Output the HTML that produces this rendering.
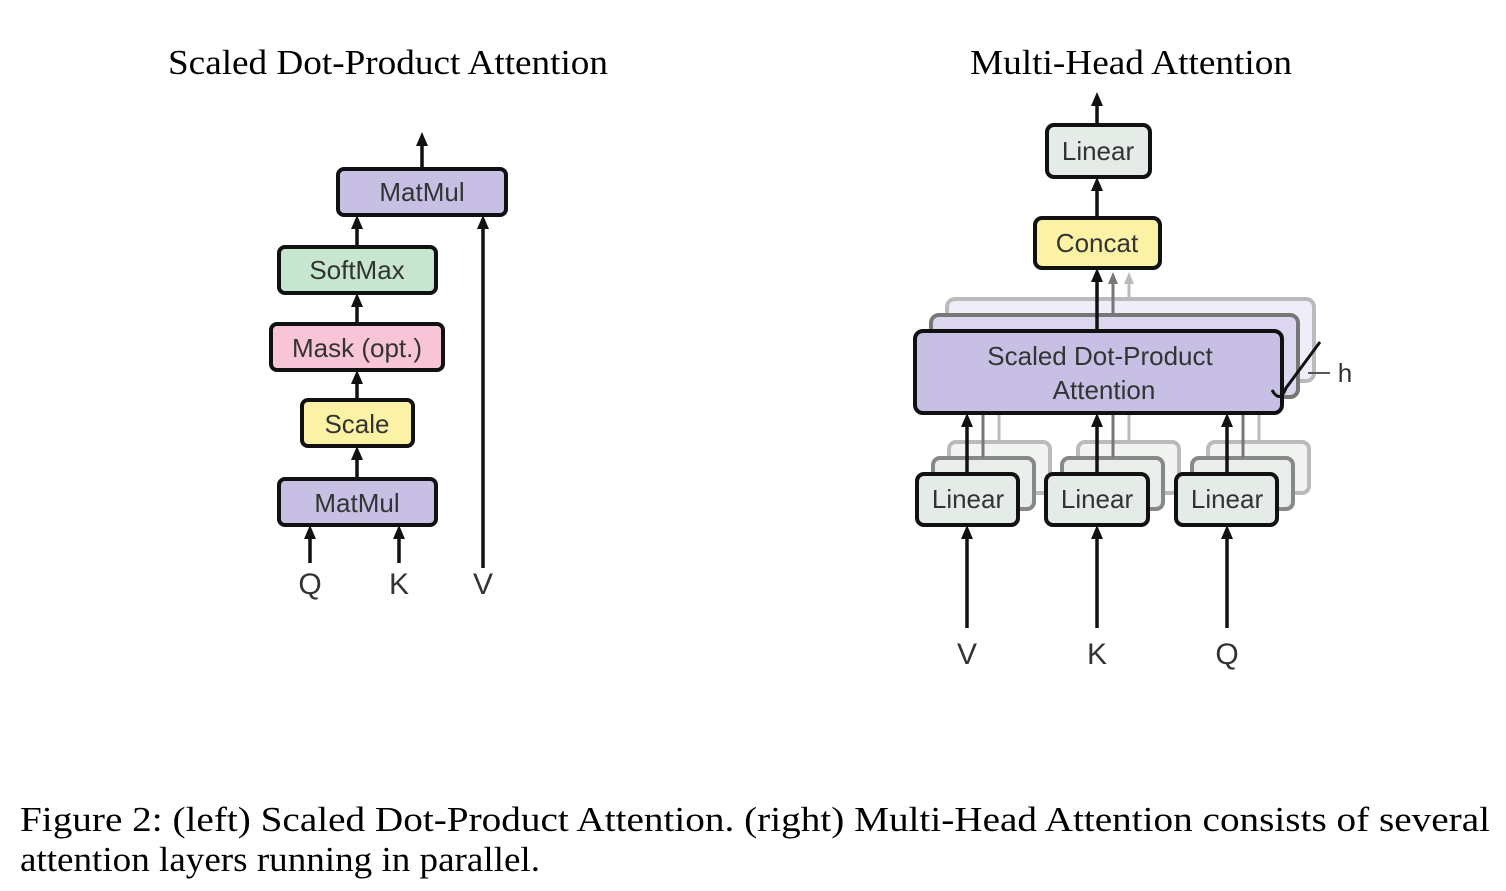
<!DOCTYPE html>
<html><head><style>
body{margin:0;background:#fff;width:1506px;height:886px;overflow:hidden}
</style></head><body>
<svg width="1506" height="886" viewBox="0 0 1506 886" xmlns="http://www.w3.org/2000/svg">
<style>
.t{font-family:"Liberation Serif",serif;font-size:35px;fill:#000}
.s{font-family:"Liberation Sans",sans-serif;font-size:26px;fill:#333;text-anchor:middle}
.b{stroke:#111;stroke-width:4}
.l{stroke:#111;stroke-width:3.5;fill:none}
</style>
<text class="t" x="168" y="74" textLength="440" lengthAdjust="spacingAndGlyphs">Scaled Dot-Product Attention</text>
<text class="t" x="970" y="74" textLength="322" lengthAdjust="spacingAndGlyphs">Multi-Head Attention</text>

<g class="l">
<line x1="422" y1="169" x2="422" y2="140"/>
<line x1="357" y1="247" x2="357" y2="222"/>
<line x1="357" y1="324" x2="357" y2="300"/>
<line x1="357" y1="400" x2="357" y2="377"/>
<line x1="357" y1="479" x2="357" y2="453"/>
<line x1="483" y1="568" x2="483" y2="222"/>
<line x1="310" y1="563" x2="310" y2="532"/>
<line x1="399" y1="563" x2="399" y2="532"/>
</g>
<g fill="#111">
<polygon points="422,132 416,146 428,146"/>
<polygon points="357,215 351,229 363,229"/>
<polygon points="357,293 351,307 363,307"/>
<polygon points="357,370 351,384 363,384"/>
<polygon points="357,446 351,460 363,460"/>
<polygon points="483,215 477,229 489,229"/>
<polygon points="310,525 304,539 316,539"/>
<polygon points="399,525 393,539 405,539"/>
</g>
<rect class="b" x="338" y="169" width="168" height="46" rx="6" fill="#c8bfe4"/>
<text class="s" x="422" y="201">MatMul</text>
<rect class="b" x="279" y="247" width="157" height="46" rx="6" fill="#c6e6cf"/>
<text class="s" x="357" y="279">SoftMax</text>
<rect class="b" x="271" y="324" width="172" height="46" rx="6" fill="#f8c5d8"/>
<text class="s" x="357" y="357">Mask (opt.)</text>
<rect class="b" x="302" y="400" width="111" height="46" rx="6" fill="#fbf2a6"/>
<text class="s" x="357" y="433">Scale</text>
<rect class="b" x="279" y="479" width="157" height="46" rx="6" fill="#c8bfe4"/>
<text class="s" x="357" y="512">MatMul</text>
<text class="s" x="310" y="594" style="font-size:30px">Q</text>
<text class="s" x="399" y="594" style="font-size:30px">K</text>
<text class="s" x="483" y="594" style="font-size:30px">V</text>

<rect x="947" y="299" width="367" height="82" rx="8" fill="#efedf7" stroke="#bbb" stroke-width="4"/>
<rect x="931" y="315" width="367" height="82" rx="8" fill="#dcd6ef" stroke="#777" stroke-width="4"/>
<line x1="1129" y1="299" x2="1129" y2="280" stroke="#bbb" stroke-width="3"/>
<polygon points="1129,272 1124,284 1134,284" fill="#bbb"/>
<line x1="1113" y1="315" x2="1113" y2="280" stroke="#777" stroke-width="3"/>
<polygon points="1113,272 1108,284 1118,284" fill="#777"/>
<g>
<rect x="949" y="442" width="101" height="51" rx="7" fill="#f2f4f2" stroke="#bbb" stroke-width="4"/>
<rect x="933" y="458" width="101" height="51" rx="7" fill="#eaeeea" stroke="#888" stroke-width="4"/>
<rect x="1078" y="442" width="101" height="51" rx="7" fill="#f2f4f2" stroke="#bbb" stroke-width="4"/>
<rect x="1062" y="458" width="101" height="51" rx="7" fill="#eaeeea" stroke="#888" stroke-width="4"/>
<rect x="1208" y="442" width="101" height="51" rx="7" fill="#f2f4f2" stroke="#bbb" stroke-width="4"/>
<rect x="1192" y="458" width="101" height="51" rx="7" fill="#eaeeea" stroke="#888" stroke-width="4"/>
<g stroke-width="3">
<line x1="983" y1="458" x2="983" y2="413" stroke="#777"/><line x1="999" y1="442" x2="999" y2="413" stroke="#bbb"/>
<line x1="1113" y1="458" x2="1113" y2="413" stroke="#777"/><line x1="1129" y1="442" x2="1129" y2="413" stroke="#bbb"/>
<line x1="1243" y1="458" x2="1243" y2="413" stroke="#777"/><line x1="1259" y1="442" x2="1259" y2="413" stroke="#bbb"/>
</g>
</g>
<g class="l">
<line x1="1097" y1="125" x2="1097" y2="100"/>
<line x1="1097" y1="218" x2="1097" y2="184"/>
<line x1="1097" y1="331" x2="1097" y2="275"/>
<line x1="967" y1="474" x2="967" y2="420"/>
<line x1="1097" y1="474" x2="1097" y2="420"/>
<line x1="1227" y1="474" x2="1227" y2="420"/>
<line x1="967" y1="628" x2="967" y2="532"/>
<line x1="1097" y1="628" x2="1097" y2="532"/>
<line x1="1227" y1="628" x2="1227" y2="532"/>
</g>
<g fill="#111">
<polygon points="1097,92 1091,106 1103,106"/>
<polygon points="1097,177 1091,191 1103,191"/>
<polygon points="1097,268 1091,282 1103,282"/>
<polygon points="967,413 961,427 973,427"/>
<polygon points="1097,413 1091,427 1103,427"/>
<polygon points="1227,413 1221,427 1233,427"/>
<polygon points="967,525 961,539 973,539"/>
<polygon points="1097,525 1091,539 1103,539"/>
<polygon points="1227,525 1221,539 1233,539"/>
</g>
<rect class="b" x="1047" y="125" width="103" height="52" rx="7" fill="#e5ebe7"/>
<text class="s" x="1098" y="160">Linear</text>
<rect class="b" x="1035" y="218" width="125" height="50" rx="7" fill="#fbf2a6"/>
<text class="s" x="1097" y="252">Concat</text>
<rect class="b" x="915" y="331" width="367" height="82" rx="8" fill="#c8bfe4"/>
<text class="s" x="1100" y="365">Scaled Dot-Product</text>
<text class="s" x="1104" y="399">Attention</text>
<path d="M1272,390 q8,14 14,-2 l34,-46" stroke="#111" stroke-width="3" fill="none"/>
<line x1="1308" y1="373" x2="1330" y2="373" stroke="#555" stroke-width="2"/>
<text class="s" x="1345" y="382">h</text>
<rect class="b" x="917" y="474" width="101" height="51" rx="7" fill="#e5ebe7"/>
<text class="s" x="968" y="508">Linear</text>
<rect class="b" x="1046" y="474" width="102" height="51" rx="7" fill="#e5ebe7"/>
<text class="s" x="1097" y="508">Linear</text>
<rect class="b" x="1176" y="474" width="101" height="51" rx="7" fill="#e5ebe7"/>
<text class="s" x="1227" y="508">Linear</text>
<text class="s" x="967" y="664" style="font-size:30px">V</text>
<text class="s" x="1097" y="664" style="font-size:30px">K</text>
<text class="s" x="1227" y="664" style="font-size:30px">Q</text>

<text class="t" x="20" y="831" textLength="1470" lengthAdjust="spacingAndGlyphs">Figure 2: (left) Scaled Dot-Product Attention. (right) Multi-Head Attention consists of several</text>
<text class="t" x="20" y="871" textLength="520" lengthAdjust="spacingAndGlyphs">attention layers running in parallel.</text>
</svg>
</body></html>
